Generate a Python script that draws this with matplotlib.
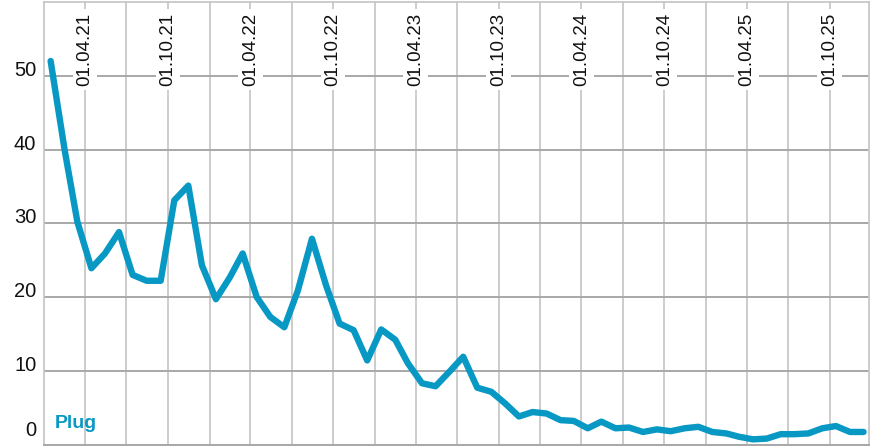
import matplotlib
matplotlib.use('Agg')
import matplotlib.pyplot as plt
import matplotlib.transforms as mtransforms
import pandas as pd

# ---- data ----
months = pd.date_range('2021-01-01', '2025-12-01', freq='MS') + pd.Timedelta(days=14)
values = [
    52.0, 39.9, 30.2, 23.9, 25.9, 28.8, 23.0, 22.2, 22.2, 33.1, 35.1, 24.3,
    19.7, 22.7, 25.9, 20.0, 17.3, 15.9, 20.9, 27.9, 21.6, 16.4, 15.5, 11.4,
    15.6, 14.2, 11.0, 8.3, 7.9, 9.9, 11.9, 7.7, 7.15, 5.6, 3.8, 4.4,
    4.2, 3.3, 3.2, 2.2, 3.1, 2.2, 2.3, 1.7, 2.05, 1.8, 2.2, 2.4,
    1.7, 1.5, 1.05, 0.7, 0.8, 1.4, 1.4, 1.5, 2.2, 2.5, 1.7, 1.7,
]
y_ticks = [0, 10, 20, 30, 40, 50]
grid_dates = pd.date_range('2021-04-01', '2025-10-01', freq='QS')
x_label_dates = pd.to_datetime(['2021-04-01', '2021-10-01', '2022-04-01', '2022-10-01',
                                '2023-04-01', '2023-10-01', '2024-04-01', '2024-10-01',
                                '2025-04-01', '2025-10-01'])
x_labels = ['01.04.21', '01.10.21', '01.04.22', '01.10.22', '01.04.23',
            '01.10.23', '01.04.24', '01.10.24', '01.04.25', '01.10.25']
series_name = 'Plug'

# ---- style ----
plt.rcParams['font.family'] = ['Liberation Sans', 'DejaVu Sans']
LINE_COLOR = '#0898c4'
HGRID = '#a8a8a8'
VGRID = '#c4c4c4'

W, H = 872, 446
fig = plt.figure(figsize=(W / 100, H / 100), dpi=100)
left, right, top, bottom = 44.3, 869.0, 2.0, 444.5
ax = fig.add_axes([left / W, (H - bottom) / H, (right - left) / W, (bottom - top) / H])

ax.set_xlim(pd.Timestamp('2021-01-01'), pd.Timestamp('2025-12-27'))
ax.set_ylim(0, 60)

# grid
ax.set_xticks(grid_dates)
ax.set_yticks(y_ticks)
ax.tick_params(length=0, labelbottom=False, labelleft=False)
ax.grid(axis='x', color=VGRID, linewidth=1.2, zorder=0)
ax.grid(axis='y', color=HGRID, linewidth=1.4, zorder=0)
ax.set_axisbelow(True)

for side in ['left', 'top', 'right']:
    ax.spines[side].set_color(VGRID)
    ax.spines[side].set_linewidth(1.2)
ax.spines['bottom'].set_color(HGRID)
ax.spines['bottom'].set_linewidth(1.4)

# line
ax.plot(months, values, color=LINE_COLOR, linewidth=4.6,
        solid_capstyle='round', solid_joinstyle='round', zorder=5)

# y labels
ytrans = mtransforms.blended_transform_factory(ax.transAxes, ax.transData)
for v in y_ticks:
    dy = 14.5 if v == 0 else 5.5
    tr = mtransforms.offset_copy(ytrans, fig=fig, x=-8, y=dy, units='dots')
    ax.text(0, v, str(v), transform=tr, ha='right', va='center',
            fontsize=14.5, color='#111111', clip_on=False)

# x labels (rotated, inside top)
xtrans = mtransforms.blended_transform_factory(ax.transData, ax.transAxes)
xtr = mtransforms.offset_copy(xtrans, fig=fig, x=0, y=-11, units='dots')
for d, lab in zip(x_label_dates, x_labels):
    ax.text(d, 1, lab, transform=xtr, rotation=90, ha='center', va='top',
            fontsize=13.5, color='#111111', zorder=3,
            bbox=dict(boxstyle='square,pad=0.2', facecolor='white', edgecolor='none'))

# series label
ax.text(10 / (right - left), 0, series_name, transform=mtransforms.offset_copy(
    ax.transAxes, fig=fig, x=0, y=12, units='dots'),
    ha='left', va='bottom', fontsize=14, fontweight='bold', color=LINE_COLOR)

fig.savefig('out.png', dpi=100)
